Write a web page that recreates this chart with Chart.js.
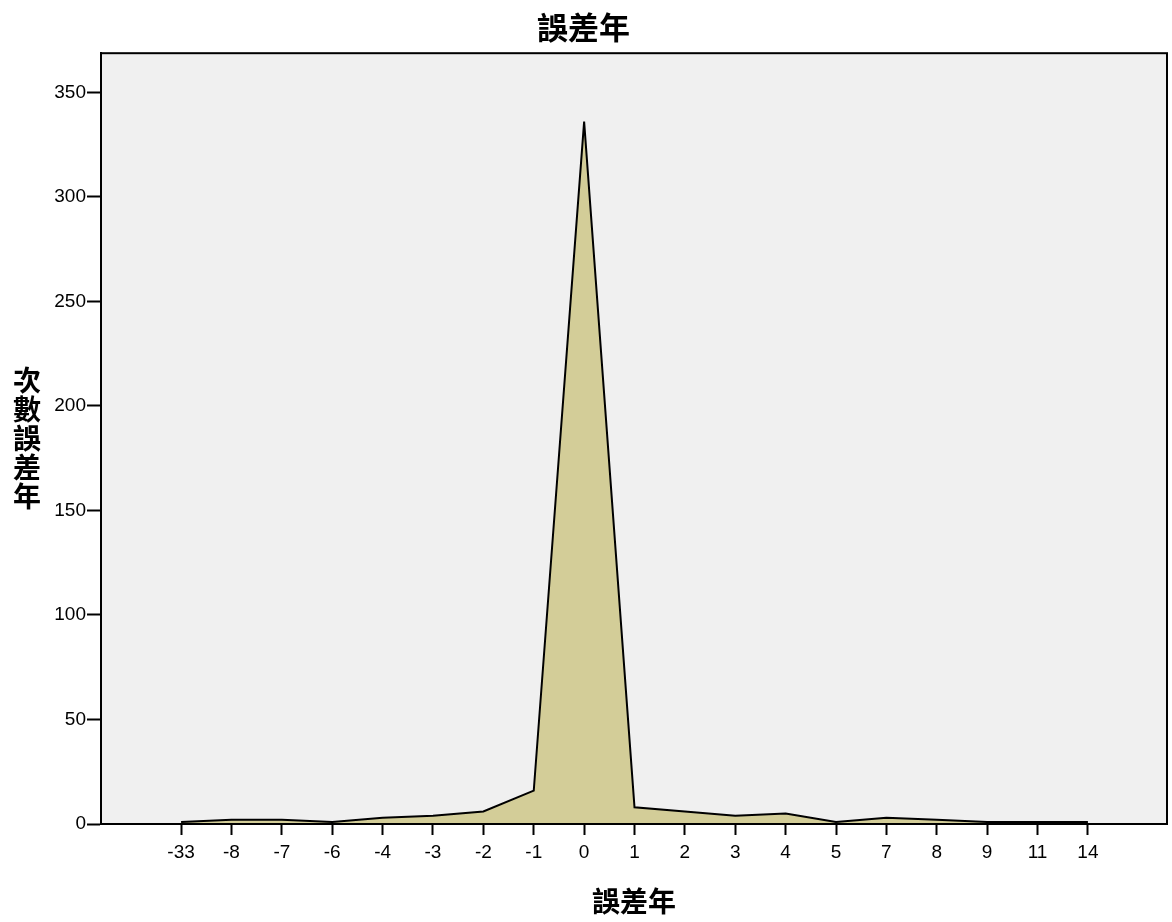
<!DOCTYPE html>
<html lang="zh-Hant">
<head>
    <meta charset="UTF-8">
    <title>誤差年</title>
    <script src="https://cdn.jsdelivr.net/npm/chart.js"></script>
    <style>
        html, body { margin: 0; padding: 0; background: #ffffff; }
        #wrap { width: 1172px; height: 922px; }
    </style>
</head>
<body>
    <div id="wrap"><canvas id="chart" width="1172" height="922"></canvas></div>
    <script>
        // category labels (error years) and their counts
        const errorYears = ['-33', '-8', '-7', '-6', '-4', '-3', '-2', '-1', '0', '1', '2', '3', '4', '5', '7', '8', '9', '11', '14'];
        const counts = [1, 2, 2, 1, 3, 4, 6, 16, 336, 8, 6, 4, 5, 1, 3, 2, 1, 1, 1];
        const yTicks = [0, 50, 100, 150, 200, 250, 300, 350];

        const titleText = '誤差年';
        const xTitleText = '誤差年';
        const yTitleChars = ['次', '數', '誤', '差', '年'];

        const cjkFont = '"Noto Sans CJK TC", "Noto Sans CJK SC", sans-serif';
        const tickFont = { family: '"Liberation Sans", Arial, sans-serif', size: 19 };

        const plotFrame = {
            id: 'plotFrame',
            beforeDraw(chart) {
                const a = chart.chartArea;
                const ctx = chart.ctx;
                ctx.save();
                ctx.fillStyle = '#f0f0f0';
                ctx.fillRect(a.left, a.top, a.right - a.left, a.bottom - a.top);
                ctx.restore();
            },
            afterDraw(chart) {
                const a = chart.chartArea;
                const ctx = chart.ctx;
                ctx.save();
                ctx.strokeStyle = '#000';
                ctx.lineWidth = 2;
                ctx.strokeRect(a.left, a.top, a.right - a.left, a.bottom - a.top);

                // stacked vertical y-axis title
                ctx.fillStyle = '#000';
                ctx.font = 'bold 28px ' + cjkFont;
                ctx.textAlign = 'center';
                ctx.textBaseline = 'middle';
                const mid = (a.top + a.bottom) / 2;
                yTitleChars.forEach((c, i) => {
                    ctx.fillText(c, 27, mid + (i - (yTitleChars.length - 1) / 2) * 29);
                });
                ctx.restore();
            }
        };

        new Chart(document.getElementById('chart'), {
            type: 'line',
            data: {
                datasets: [{
                    data: counts.map((v, i) => ({ x: i, y: v })),
                    fill: 'origin',
                    backgroundColor: '#d3cd98',
                    borderColor: '#000',
                    borderWidth: 2,
                    pointRadius: 0,
                    tension: 0
                }]
            },
            options: {
                responsive: false,
                animation: false,
                layout: { padding: { left: 0, right: 5, top: 0, bottom: 0 } },
                plugins: {
                    legend: { display: false },
                    tooltip: { enabled: false },
                    title: {
                        display: true,
                        text: titleText,
                        color: '#000',
                        font: { family: cjkFont, size: 31, weight: 'bold' },
                        padding: { top: 9, bottom: 7 }
                    }
                },
                scales: {
                    x: {
                        type: 'linear',
                        min: -1.59,
                        max: 19.57,
                        afterBuildTicks(scale) {
                            scale.ticks = errorYears.map((_, i) => ({ value: i }));
                        },
                        afterFit(scale) { scale.height = 98; },
                        ticks: {
                            autoSkip: false,
                            maxRotation: 0,
                            color: '#000',
                            font: tickFont,
                            padding: 6,
                            callback: v => errorYears[v]
                        },
                        grid: {
                            drawOnChartArea: false,
                            drawTicks: true,
                            tickLength: 11,
                            tickColor: '#000',
                            tickWidth: 2
                        },
                        border: { color: '#000', width: 2 },
                        title: {
                            display: true,
                            text: xTitleText,
                            color: '#000',
                            font: { family: cjkFont, size: 28, weight: 'bold' },
                            padding: { top: 0, bottom: 4 }
                        }
                    },
                    y: {
                        min: 0,
                        max: 368.7,
                        afterBuildTicks(scale) {
                            scale.ticks = yTicks.map(v => ({ value: v }));
                        },
                        afterFit(scale) { scale.width = 101; },
                        ticks: {
                            color: '#000',
                            font: tickFont,
                            padding: 1
                        },
                        grid: {
                            drawOnChartArea: false,
                            drawTicks: true,
                            tickLength: 14,
                            tickColor: '#000',
                            tickWidth: 2
                        },
                        border: { color: '#000', width: 2 }
                    }
                }
            },
            plugins: [plotFrame]
        });
    </script>
</body>
</html>
